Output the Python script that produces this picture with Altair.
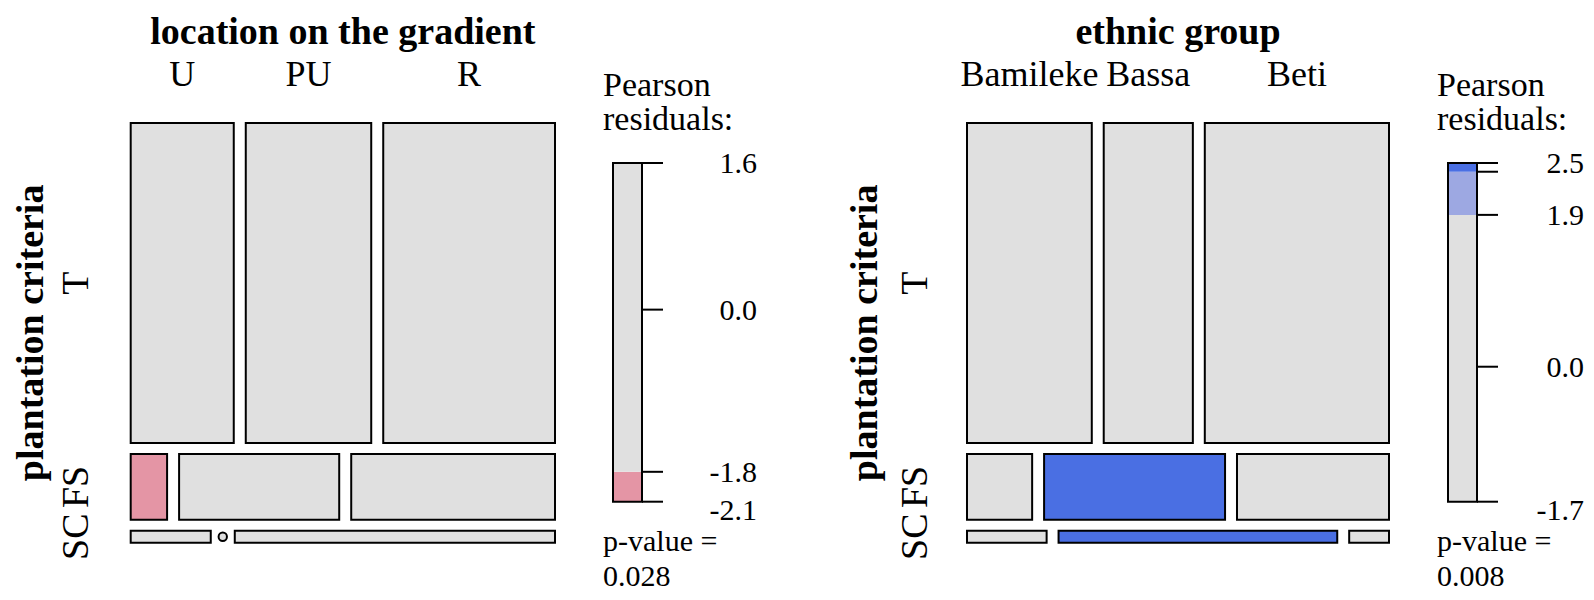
import altair as alt
import numpy as np
import pandas as pd

# ---------------- data ----------------
rows = ["T", "FS", "SC"]

loc_cats = ["U", "PU", "R"]
loc_T = [69, 84, 115]
loc_FS = [5, 22, 28]
loc_SC = [2, 0, 8]
loc_thresholds = [1.8, 2.35]
loc_pvalue = "0.028"

eth_cats = ["Bamileke", "Bassa", "Beti"]
eth_T = [84, 60, 124]
eth_FS = [9, 25, 21]
eth_SC = [2, 7, 1]
eth_thresholds = [1.9, 2.44]
eth_pvalue = "0.008"

# ---------------- style / layout ----------------
W, H = 1578, 584
GX, GY = 0.03, 0.0276
FONT = "Liberation Serif"
GRAY = "#E0E0E0"
LRED, DRED = "#E495A5", "#D33F6A"
LBLUE, DBLUE = "#9DA8E2", "#4A6FE3"


def shade(v, thr):
    t1, t2 = thr
    if v > t2:
        return DBLUE
    if v > t1:
        return LBLUE
    if v < -t2:
        return DRED
    if v < -t1:
        return LRED
    return GRAY


def mosaic(cats, counts, thr):
    tab = np.array(counts, dtype=float)
    n = tab.sum()
    rt, ct = tab.sum(1), tab.sum(0)
    exp = np.outer(rt, ct) / n
    res = (tab - exp) / np.sqrt(exp)
    recs = []
    y = 0.0
    for i, r in enumerate(rows):
        h = rt[i] / n
        x = 0.0
        for j, c in enumerate(cats):
            w = tab[i, j] / rt[i]
            recs.append(dict(row=r, col=c, count=tab[i, j], x0=x, x1=x + w,
                             y0=y, y1=y + h, xm=x + w / 2, ym=y + h / 2,
                             res=res[i, j], fill=shade(res[i, j], thr)))
            x += w + GX
        y += h + GY
    return pd.DataFrame(recs), float(res.min()), float(res.max())


def dom(u0, u1, p0, p1, P):
    k = (p1 - p0) / (u1 - u0)
    a = u0 - p0 / k
    return [a, a + P / k]


def text_layer(txt, x, y, size, bold=False, align="left", angle=0, baseline="alphabetic"):
    kw = dict(font=FONT, fontSize=size, align=align, baseline=baseline, color="black",
              fontWeight="bold" if bold else "normal")
    if angle:
        kw["angle"] = angle
    return alt.Chart(pd.DataFrame({"t": [txt]})).mark_text(**kw).encode(
        x=alt.value(x), y=alt.value(y), text="t:N")


def panel(cats, counts, thr, pval, title, mx0, mx1, ytitle_x, rowlab_x,
          bar_x0, bar_x1, tick_x1, lab_x, leg_x):
    df, rmin, rmax = mosaic(cats, counts, thr)
    xs = alt.Scale(domain=dom(0, 1 + 2 * GX, mx0, mx1, W), nice=False, zero=False)
    ys = alt.Scale(domain=dom(0, 1 + 2 * GY, 115, 534.7, H), nice=False, zero=False, reverse=True)
    layers = []
    cells = df[df["count"] > 0]
    layers.append(alt.Chart(cells).mark_rect(stroke="black", strokeWidth=2).encode(
        x=alt.X("x0:Q", scale=xs, axis=None), x2="x1:Q",
        y=alt.Y("y0:Q", scale=ys, axis=None), y2="y1:Q",
        color=alt.Color("fill:N", scale=None)))
    zeros = df[df["count"] == 0]
    if len(zeros):
        layers.append(alt.Chart(zeros).mark_point(shape="circle", filled=True, fill=GRAY,
                                                  stroke="black", strokeWidth=2, size=70,
                                                  opacity=1).encode(
            x=alt.X("x0:Q", scale=xs, axis=None),
            y=alt.Y("ym:Q", scale=ys, axis=None)))
    top = df[df["row"] == rows[0]]
    layers.append(alt.Chart(top).mark_text(font=FONT, fontSize=36, baseline="alphabetic",
                                           align="center").encode(
        x=alt.X("xm:Q", scale=xs, axis=None), y=alt.value(78), text="col:N"))
    left = df[df["col"] == cats[0]]
    layers.append(alt.Chart(left).mark_text(font=FONT, fontSize=38, baseline="middle",
                                            align="center", angle=270).encode(
        y=alt.Y("ym:Q", scale=ys, axis=None), x=alt.value(rowlab_x), text="row:N"))
    # titles
    layers.append(text_layer(title, (mx0 + mx1) / 2, 36, 38, bold=True, align="center"))
    layers.append(text_layer("plantation criteria", ytitle_x, (115 + 534.7) / 2, 38,
                             bold=True, align="center", angle=270, baseline="middle"))
    # legend
    k = (493.7 - 155) / (rmax - rmin)
    b = rmax + 155 / k
    ls = alt.Scale(domain=[b - H / k, b], nice=False, zero=False)
    t1, t2 = thr
    brk = [-np.inf, -t2, -t1, t1, t2, np.inf]
    cols = [DRED, LRED, GRAY, LBLUE, DBLUE]
    segs = []
    for i in range(5):
        lo, hi = max(brk[i], rmin), min(brk[i + 1], rmax)
        if hi > lo:
            segs.append(dict(lo=lo, hi=hi, fill=cols[i]))
    layers.append(alt.Chart(pd.DataFrame(segs)).mark_rect().encode(
        y=alt.Y("lo:Q", scale=ls, axis=None), y2="hi:Q",
        x=alt.value(bar_x0), x2=alt.value(bar_x1), color=alt.Color("fill:N", scale=None)))
    layers.append(alt.Chart(pd.DataFrame({"lo": [rmin], "hi": [rmax]})).mark_rect(
        fillOpacity=0, stroke="black", strokeWidth=2).encode(
        y=alt.Y("lo:Q", scale=ls, axis=None), y2="hi:Q",
        x=alt.value(bar_x0), x2=alt.value(bar_x1)))
    ticks = [rmax, 0.0]
    labs = [f"{rmax:.1f}", "0.0"]
    for t in (t1, t2, -t1, -t2):
        if rmin < t < rmax:
            ticks.append(t)
            near = min(abs(t - rmax), abs(t - rmin))
            labs.append(f"{t:.1f}" if near > 0.2 else "")
    tdf = pd.DataFrame({"v": ticks + [rmin], "lab": labs + [f"{rmin:.1f}"]})
    layers.append(alt.Chart(tdf).mark_rule(color="black", strokeWidth=2).encode(
        y=alt.Y("v:Q", scale=ls, axis=None), x=alt.value(bar_x1), x2=alt.value(tick_x1)))
    layers.append(alt.Chart(tdf.iloc[:-1]).mark_text(font=FONT, fontSize=30, align="right",
                                                     baseline="middle", dy=1).encode(
        y=alt.Y("v:Q", scale=ls, axis=None), x=alt.value(lab_x), text="lab:N"))
    layers.append(alt.Chart(tdf.iloc[-1:]).mark_text(font=FONT, fontSize=30, align="right",
                                                     baseline="middle", dy=9).encode(
        y=alt.Y("v:Q", scale=ls, axis=None), x=alt.value(lab_x), text="lab:N"))
    layers.append(text_layer("Pearson", leg_x, 88, 34))
    layers.append(text_layer("residuals:", leg_x, 122, 34))
    layers.append(text_layer("p-value =", leg_x, 543, 30))
    layers.append(text_layer(pval, leg_x, 578, 30))
    return layers


layers = []
layers += panel(loc_cats, [loc_T, loc_FS, loc_SC], loc_thresholds, loc_pvalue,
                "location on the gradient", 122.7, 547, 24, 69,
                605, 634, 655, 749, 595)
layers += panel(eth_cats, [eth_T, eth_FS, eth_SC], eth_thresholds, eth_pvalue,
                "ethnic group", 959, 1381, 858, 908,
                1440, 1469, 1490, 1576, 1429)

chart = alt.layer(*layers).resolve_scale(x="independent", y="independent").properties(
    width=W, height=H, padding=0, autosize=alt.AutoSizeParams(type="none"),
    background="white"
).configure_view(stroke=None)

chart.save("out.html", embed_options={"renderer": "svg", "actions": False})
